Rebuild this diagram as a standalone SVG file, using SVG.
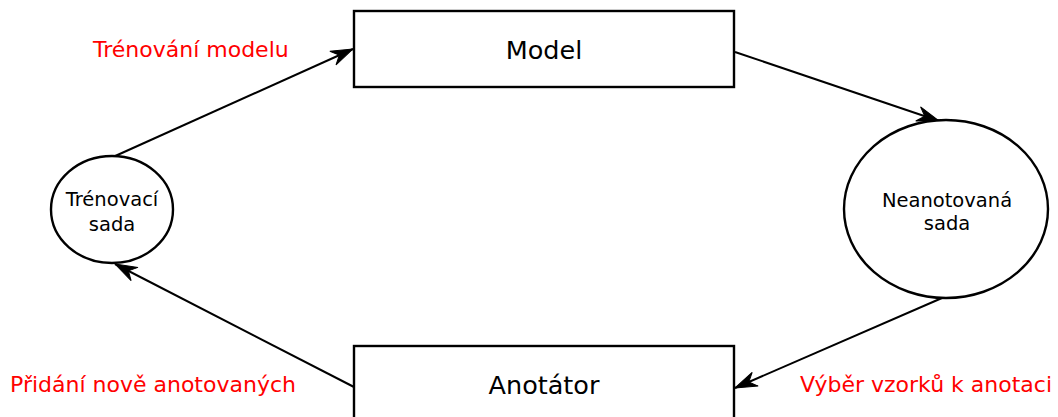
<svg xmlns="http://www.w3.org/2000/svg" width="1058" height="417" viewBox="0 0 1058 417">
<style>
.box{fill:#fff;stroke:#000;stroke-width:2.4}
.ell{fill:#fff;stroke:#000;stroke-width:2.4}
.big{font-family:"DejaVu Sans",Verdana,sans-serif;font-size:25.5px;fill:#000;text-anchor:middle}
.small{font-family:"DejaVu Sans",Verdana,sans-serif;font-size:19.5px;fill:#000;text-anchor:middle}
.lbl{font-family:"DejaVu Sans",Verdana,sans-serif;font-size:22px;fill:#ff0000}
.edge{fill:none;stroke:#000;stroke-width:2}
</style>
<defs>
<marker id="arr" markerUnits="userSpaceOnUse" markerWidth="26" markerHeight="20" refX="23" refY="9" orient="auto">
<path d="M23,9 L1,1.5 L8,9 L1,16.5 Z" fill="#000" stroke="#000" stroke-width="1" stroke-linejoin="miter"/>
</marker>
</defs>
<g id="connectors">
<line class="edge" x1="113" y1="157" x2="353" y2="49" marker-end="url(#arr)"/>
<line class="edge" x1="735" y1="52" x2="939" y2="121" marker-end="url(#arr)"/>
<line class="edge" x1="942" y1="298" x2="735" y2="388" marker-end="url(#arr)"/>
<line class="edge" x1="354" y1="387" x2="115" y2="264" marker-end="url(#arr)"/>
</g>
<g id="model">
<rect class="box" x="354" y="11" width="380" height="76"/>
<text class="big" x="544" y="59">Model</text>
</g>
<g id="anotator">
<rect class="box" x="354" y="346" width="380" height="76"/>
<text class="big" x="544" y="394">Anotátor</text>
</g>
<g id="trenovaci-sada">
<ellipse class="ell" cx="112" cy="209.5" rx="61" ry="53.5"/>
<text class="small" x="112" y="206">Trénovací</text>
<text class="small" x="112" y="231">sada</text>
</g>
<g id="neanotovana-sada">
<ellipse class="ell" cx="946" cy="209" rx="102" ry="89"/>
<text class="small" x="947" y="207">Neanotovaná</text>
<text class="small" x="947" y="230">sada</text>
</g>
<g id="labels">
<text class="lbl" x="93" y="57">Trénování modelu</text>
<text class="lbl" x="10" y="392">Přidání nově anotovaných</text>
<text class="lbl" x="800" y="392">Výběr vzorků k anotaci</text>
</g>
</svg>
